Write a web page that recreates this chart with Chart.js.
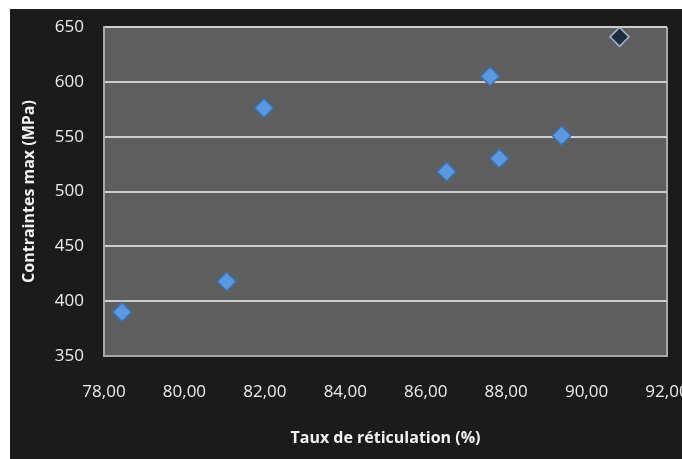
<!DOCTYPE html>
<html>
<head>
<meta charset="utf-8">
<script src="https://cdn.jsdelivr.net/npm/chart.js@4.4.1/dist/chart.umd.min.js"></script>
<style>
  html, body { margin: 0; padding: 0; background: #ffffff; }
  #wrap { position: absolute; left: 10px; top: 9px; width: 672px; height: 450px; background: #1b1b1b; }
</style>
</head>
<body>
<div id="wrap"><canvas id="scatterChart" width="672" height="450"></canvas></div>
<script>
// data
const tauxReticulation = [78.45, 81.05, 81.98, 86.52, 87.6, 87.83, 89.38, 90.82];
const contraintesMax = [390, 418, 576, 518, 605, 530, 551, 641];
const xTicks = [78, 80, 82, 84, 86, 88, 90, 92];
const yTicks = [350, 400, 450, 500, 550, 600, 650];

const points = tauxReticulation.map((x, i) => ({ x: x, y: contraintesMax[i] }));
const lastIdx = points.length - 1;

// plot area background + right edge
const plotBg = {
  id: 'plotBg',
  beforeDraw(chart) {
    const { ctx, chartArea: a } = chart;
    ctx.save();
    ctx.fillStyle = '#5e5e5e';
    ctx.fillRect(a.left, a.top, a.right - a.left, a.bottom - a.top);
    ctx.strokeStyle = '#a8a8a8';
    ctx.lineWidth = 2;
    ctx.beginPath();
    ctx.moveTo(a.right, a.top);
    ctx.lineTo(a.right, a.bottom);
    ctx.stroke();
    ctx.restore();
  }
};

const ctx = document.getElementById('scatterChart').getContext('2d');
const chart = new Chart(ctx, {
  type: 'scatter',
  data: {
    datasets: [{
      data: points,
      pointStyle: 'rectRot',
      pointRadius: 9.5,
      pointHoverRadius: 9.5,
      pointBackgroundColor: points.map((p, i) => i === lastIdx ? '#1e2c40' : '#5899e2'),
      pointBorderColor: points.map((p, i) => i === lastIdx ? '#9fb4c8' : '#3d70ad'),
      pointBorderWidth: 1.5
    }]
  },
  options: {
    responsive: false,
    animation: false,
    layout: { padding: { top: 18, right: 15, left: 0, bottom: 0 } },
    plugins: { legend: { display: false }, tooltip: { enabled: false } },
    scales: {
      x: {
        type: 'linear',
        min: 78,
        max: 92,
        afterBuildTicks: s => { s.ticks = xTicks.map(v => ({ value: v })); },
        afterFit: s => { s.height = 103; s.paddingLeft = 0; s.paddingRight = 0; },
        grid: { display: false, drawTicks: false },
        border: { display: true, color: '#a8a8a8', width: 2 },
        ticks: {
          color: '#ececec',
          padding: 26,
          maxRotation: 0,
          font: { family: 'Open Sans', size: 17 },
          callback: v => v.toFixed(2).replace('.', ',')
        },
        title: {
          display: true,
          text: 'Taux de réticulation (%)',
          color: '#f2f2f2',
          font: { family: 'Open Sans', size: 16, weight: 'bold' },
          padding: { top: 0, bottom: 11 }
        }
      },
      y: {
        min: 350,
        max: 650,
        afterBuildTicks: s => { s.ticks = yTicks.map(v => ({ value: v })); },
        afterFit: s => { s.width = 94; s.paddingTop = 0; s.paddingBottom = 0; },
        grid: {
          color: '#cdcdcd',
          lineWidth: 2,
          drawTicks: false
        },
        border: { display: true, color: '#a8a8a8', width: 2 },
        ticks: {
          color: '#ececec',
          padding: 20,
          font: { family: 'Open Sans', size: 17 }
        },
        title: {
          display: true,
          text: 'Contraintes max (MPa)',
          color: '#f2f2f2',
          font: { family: 'Open Sans', size: 16, weight: 'bold' },
          padding: { top: 10, bottom: 0 }
        }
      }
    }
  },
  plugins: [plotBg]
});
</script>
</body>
</html>
